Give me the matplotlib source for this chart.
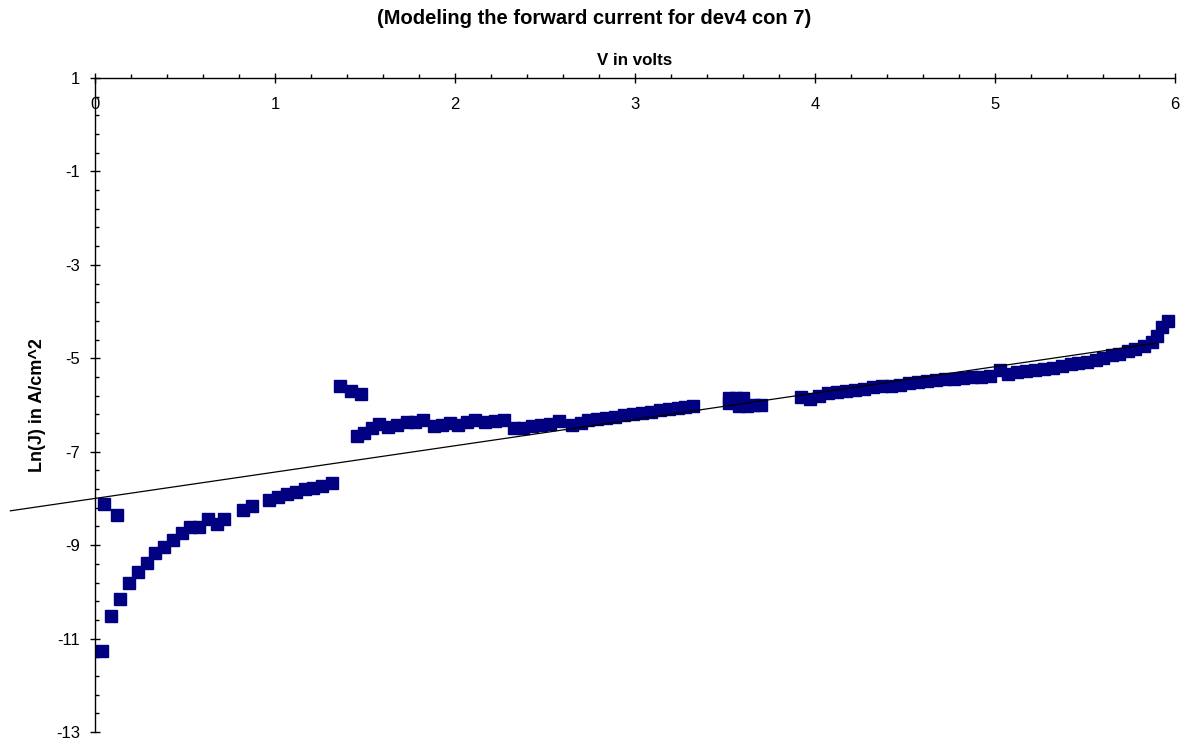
import numpy as np
import matplotlib
matplotlib.use("Agg")
import matplotlib.pyplot as plt
from matplotlib.ticker import FixedLocator, AutoMinorLocator

plt.rcParams['font.family'] = ['Liberation Sans', 'DejaVu Sans']
plt.rcParams['axes.unicode_minus'] = False

# Measured forward characteristic: voltage (V) and ln(J)
v_low = [0.04, 0.05, 0.089, 0.124, 0.139, 0.187, 0.237, 0.287, 0.335, 0.381, 0.435,
         0.481, 0.528, 0.578, 0.63, 0.68, 0.717, 0.824, 0.874, 0.968, 1.018,
         1.068, 1.114, 1.167, 1.213, 1.263, 1.315]
lnj_low = [-11.27, -8.12, -10.51, -8.36, -10.16, -9.81, -9.57, -9.38, -9.16, -9.03, -8.88,
           -8.75, -8.62, -8.61, -8.44, -8.55, -8.44, -8.25, -8.16, -8.04, -7.98,
           -7.91, -7.87, -7.79, -7.77, -7.74, -7.68]

v_jump = [1.36, 1.42, 1.48]
lnj_jump = [-5.60, -5.70, -5.77]

v_mid = [1.454, 1.496, 1.537, 1.58, 1.63, 1.676, 1.731, 1.778, 1.82, 1.883, 1.926,
         1.972, 2.018, 2.065, 2.11, 2.167, 2.22, 2.27, 2.33, 2.38, 2.43, 2.48,
         2.53, 2.58, 2.65, 2.70, 2.74, 2.79, 2.84, 2.89, 2.94, 2.99, 3.04, 3.09,
         3.14, 3.19, 3.24, 3.28, 3.32]
lnj_mid = [-6.67, -6.59, -6.50, -6.41, -6.47, -6.43, -6.36, -6.36, -6.32, -6.45, -6.43,
           -6.39, -6.43, -6.36, -6.32, -6.36, -6.34, -6.32, -6.50, -6.50, -6.46, -6.43,
           -6.40, -6.35, -6.42, -6.38, -6.33, -6.29, -6.27, -6.25, -6.22, -6.20, -6.17, -6.14,
           -6.11, -6.09, -6.07, -6.05, -6.03]

v_cluster = [3.52, 3.56, 3.60, 3.52, 3.58, 3.62, 3.66, 3.70]
lnj_cluster = [-5.86, -5.85, -5.84, -5.95, -6.03, -6.02, -6.00, -5.99]

v_high = [3.92, 3.97, 4.02, 4.07, 4.12, 4.17, 4.22, 4.27, 4.32, 4.37, 4.42, 4.47,
          4.52, 4.57, 4.62, 4.67, 4.72, 4.77, 4.82, 4.87, 4.92, 4.97, 5.03, 5.07,
          5.12, 5.17, 5.22, 5.27, 5.32, 5.37, 5.42, 5.46, 5.51, 5.56, 5.60, 5.65,
          5.69, 5.74, 5.78, 5.83, 5.87, 5.90, 5.93, 5.96]
lnj_high = [-5.83, -5.88, -5.80, -5.75, -5.72, -5.70, -5.68, -5.65, -5.62, -5.60, -5.59, -5.57,
            -5.53, -5.50, -5.48, -5.46, -5.45, -5.44, -5.42, -5.41, -5.39, -5.37, -5.25, -5.33,
            -5.30, -5.28, -5.25, -5.23, -5.20, -5.17, -5.13, -5.10, -5.07, -5.03, -4.99, -4.94,
            -4.90, -4.85, -4.80, -4.73, -4.65, -4.52, -4.33, -4.20]

voltage = v_low + v_jump + v_mid + v_cluster + v_high
ln_j = lnj_low + lnj_jump + lnj_mid + lnj_cluster + lnj_high

# Linear trend model: ln(J) = slope * V + intercept
trend_slope = 0.564
trend_intercept = -8.0
trend_v_range = [-0.47, 5.9]

y_ticks = [-13, -11, -9, -7, -5, -3, -1, 1]
x_ticks = [0, 1, 2, 3, 4, 5, 6]

W, H = 1189, 744
fig = plt.figure(figsize=(W / 100, H / 100), dpi=100)
ax = fig.add_axes([95 / W, (H - 732) / H, 1080 / W, 654 / H])

ax.set_xlim(0, 6)
ax.set_ylim(-13, 1)

tv = np.array(trend_v_range)
ax.plot(tv, trend_slope * tv + trend_intercept, color='black', lw=0.9,
        clip_on=False, zorder=3)
ax.plot(voltage, ln_j, linestyle='none', marker='s', markersize=8.6,
        color='#000080', markeredgecolor='#000080', clip_on=False, zorder=2)

# axis lines: x axis along the top (y = 1), y axis at V = 0
ax.spines['top'].set_visible(False)
ax.spines['right'].set_visible(False)
ax.spines['bottom'].set_position(('data', 1))
for s in ('bottom', 'left'):
    ax.spines[s].set_linewidth(1.0)

ax.xaxis.set_major_locator(FixedLocator(x_ticks))
ax.xaxis.set_minor_locator(AutoMinorLocator(5))
ax.yaxis.set_major_locator(FixedLocator(y_ticks))
ax.yaxis.set_minor_locator(AutoMinorLocator(5))

ax.tick_params(axis='x', which='major', direction='inout', length=7, width=1,
               labelsize=12, pad=10)
ax.tick_params(axis='x', which='minor', direction='in', length=3, width=1)
ax.tick_params(axis='y', which='major', direction='inout', length=7, width=1,
               labelsize=12, pad=7)
ax.tick_params(axis='y', which='minor', direction='in', length=3, width=1)

ax.set_title('V in volts', fontsize=12.2, fontweight='bold', pad=9.5)
ax.set_ylabel('Ln(J) in A/cm^2', fontsize=13, fontweight='bold')
ax.yaxis.set_label_coords(-0.053, 0.5)
ax.yaxis.label.set_verticalalignment('center')

fig.suptitle('(Modeling the forward current for dev4 con 7)', fontsize=14.5,
             fontweight='bold', x=0.5, y=1 - 19 / H, va='center')

fig.savefig('out.png', dpi=100)
